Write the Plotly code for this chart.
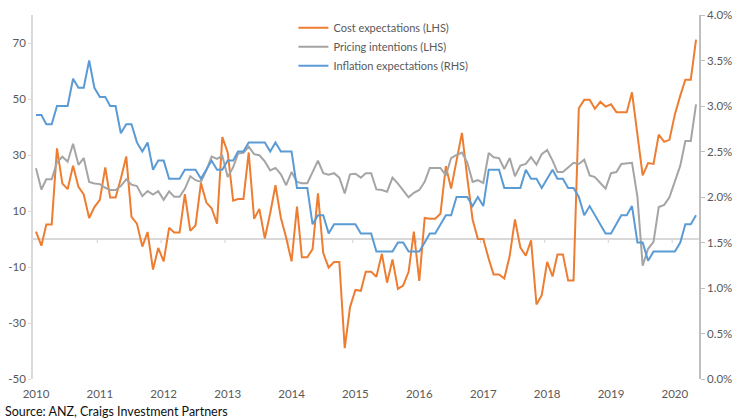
import pandas as pd
import plotly.graph_objects as go

# ---------------- data (monthly, Jan 2010 - May 2020) ----------------
start_month = "2010-01-01"
n_months = 125
dates = pd.date_range(start_month, periods=n_months, freq="MS")

cost_expectations = [
    2.6, -2.4, 5.2, 5.2, 32.4, 19.8, 17.8, 26.2, 18.6, 15.9, 7.5, 11.4,
    14.0, 25.6, 14.8, 14.8, 21.5, 29.5, 7.9, 5.5, -2.7, 2.5, -10.9, -3.2,
    -8.0, 4.0, 2.3, 2.3, 16.0, 2.9, 4.8, 20.0, 13.0, 11.0, 5.5, 36.4,
    30.9, 13.7, 14.3, 14.3, 30.9, 7.2, 10.7, 0.2, 9.3, 19.2, 7.5, 0.5,
    -8.0, 11.6, -6.5, -6.5, -3.6, 16.3, -5.0, -10.2, -8.2, -8.2, -39.0, -24.4,
    -18.2, -18.5, -11.7, -11.7, -13.5, -5.3, -15.6, -7.3, -17.8, -16.6, -11.7, 2.6,
    -15.0, 7.5, 7.2, 7.2, 9.0, 26.0, 18.0, 28.0, 37.9, 22.1, 6.9, 0.0,
    0.0, -7.1, -12.7, -12.7, -14.1, -6.0, 7.0, -3.1, -6.0, -0.5, -23.4, -20.1,
    -8.2, -13.4, -5.5, -5.5, -14.8, -14.8, 46.7, 49.7, 49.7, 46.5, 49.0, 47.3,
    48.1, 45.3, 45.3, 45.3, 52.4, 37.5, 22.7, 27.1, 26.8, 37.3, 34.7, 35.4,
    44.5, 51.2, 56.9, 56.9, 71.2,
]

pricing_intentions = [
    25.3, 17.7, 21.3, 21.3, 27.4, 29.4, 27.6, 34.0, 26.5, 28.9, 20.4, 19.8,
    19.6, 18.3, 17.5, 17.5, 18.9, 21.3, 19.4, 18.9, 15.3, 17.1, 15.9, 17.1,
    14.0, 17.0, 15.1, 15.1, 17.9, 22.4, 21.0, 20.4, 24.5, 29.4, 28.6, 29.7,
    22.1, 25.6, 30.5, 30.8, 33.0, 30.3, 29.9, 27.7, 24.5, 25.4, 23.1, 19.2,
    23.9, 20.4, 19.9, 19.9, 23.9, 28.0, 23.5, 23.0, 23.5, 21.9, 16.3, 23.1,
    23.3, 21.9, 23.5, 23.5, 17.7, 17.5, 16.9, 21.9, 19.8, 17.2, 14.9, 16.5,
    17.5, 20.4, 25.4, 25.4, 25.4, 22.7, 28.9, 30.0, 30.9, 27.4, 20.4, 21.0,
    20.0, 30.7, 29.2, 28.9, 25.0, 28.9, 22.4, 26.2, 26.8, 29.2, 26.6, 30.3,
    31.8, 28.0, 23.9, 23.9, 25.6, 27.2, 26.8, 28.3, 22.7, 22.1, 20.0, 18.0,
    23.5, 23.9, 26.8, 26.9, 27.2, 15.1, -9.5, -3.5, -1.0, 11.4, 12.2, 14.9,
    20.7, 26.2, 35.0, 35.0, 48.1,
]

inflation_expectations = [  # per cent
    2.9, 2.9, 2.8, 2.8, 3.0, 3.0, 3.0, 3.3, 3.2, 3.2, 3.5, 3.2,
    3.1, 3.1, 3.0, 3.0, 2.7, 2.8, 2.8, 2.6, 2.5, 2.6, 2.3, 2.4,
    2.4, 2.2, 2.2, 2.2, 2.3, 2.3, 2.3, 2.2, 2.3, 2.4, 2.3, 2.3,
    2.4, 2.4, 2.5, 2.5, 2.6, 2.6, 2.6, 2.6, 2.5, 2.6, 2.5, 2.5,
    2.5, 2.1, 2.1, 2.1, 1.7, 1.8, 1.8, 1.6, 1.7, 1.7, 1.7, 1.7,
    1.7, 1.6, 1.6, 1.6, 1.4, 1.4, 1.4, 1.4, 1.5, 1.5, 1.4, 1.4,
    1.4, 1.5, 1.6, 1.6, 1.7, 1.8, 1.8, 2.0, 2.0, 2.0, 1.9, 2.0,
    1.9, 2.3, 2.3, 2.3, 2.1, 2.1, 2.1, 2.1, 2.3, 2.2, 2.2, 2.1,
    2.2, 2.3, 2.2, 2.2, 2.1, 2.1, 2.0, 1.8, 1.9, 1.8, 1.7, 1.6,
    1.6, 1.7, 1.8, 1.8, 1.9, 1.5, 1.5, 1.3, 1.4, 1.4, 1.4, 1.4,
    1.4, 1.5, 1.7, 1.7, 1.8,
]

series_names = ["Cost expectations (LHS)", "Pricing intentions (LHS)", "Inflation expectations (RHS)"]
series_colors = ["#ED7D31", "#A5A5A5", "#5B9BD5"]

left_ticks = [-50, -30, -10, 10, 30, 50, 70]
left_range = [-50, 80]
right_ticks = [0.0, 0.5, 1.0, 1.5, 2.0, 2.5, 3.0, 3.5, 4.0]
right_range = [0, 4]
years = list(range(2010, 2021))
x_range = ["2009-12-15", "2020-05-18"]
source_text = "Source: ANZ, Craigs Investment Partners"

# ---------------- figure ----------------
FONT = "Lato, 'Open Sans', sans-serif"
TICK_COLOR = "#595959"
AXIS_COLOR = "#d9d9d9"

fig = go.Figure()
fig.add_trace(go.Scatter(x=dates, y=cost_expectations, name=series_names[0], mode="lines",
                         line=dict(color=series_colors[0], width=2), yaxis="y"))
fig.add_trace(go.Scatter(x=dates, y=pricing_intentions, name=series_names[1], mode="lines",
                         line=dict(color=series_colors[1], width=2), yaxis="y"))
fig.add_trace(go.Scatter(x=dates, y=inflation_expectations, name=series_names[2], mode="lines",
                         line=dict(color=series_colors[2], width=2), yaxis="y2"))

# small tick marks on the zero line at each year boundary
for yr in years[1:]:
    tx = pd.Timestamp(f"{yr}-01-01") - pd.Timedelta(days=15)
    fig.add_shape(type="line", xref="x", yref="y", x0=tx, x1=tx, y0=0, y1=-1.4,
                  line=dict(color=AXIS_COLOR, width=1.2), layer="below")

fig.update_layout(
    width=740, height=420,
    margin=dict(l=33, r=34, t=8, b=41),
    paper_bgcolor="white", plot_bgcolor="white",
    font=dict(family=FONT, size=11, color=TICK_COLOR),
    showlegend=True,
    legend=dict(x=0.391, y=1.005, xanchor="left", yanchor="top",
                bgcolor="rgba(0,0,0,0)", font=dict(size=11, color=TICK_COLOR),
                tracegroupgap=0, itemwidth=30),
    xaxis=dict(
        type="date", range=x_range, showgrid=False, zeroline=False, showline=False,
        tickvals=[pd.Timestamp(f"{y}-01-01") for y in years],
        ticktext=[str(y) for y in years],
        ticks="", ticklabelstandoff=6, tickfont=dict(size=11.5, color=TICK_COLOR),
    ),
    yaxis=dict(
        range=left_range, tickvals=left_ticks, ticktext=[str(v) for v in left_ticks],
        showgrid=False, zeroline=True, zerolinecolor=AXIS_COLOR, zerolinewidth=1.5,
        showline=True, linecolor=AXIS_COLOR, linewidth=1.5,
        ticks="outside", ticklen=3, tickcolor=AXIS_COLOR, tickwidth=1,
        tickfont=dict(size=11.5, color=TICK_COLOR),
    ),
    yaxis2=dict(
        range=right_range, tickvals=right_ticks, ticktext=[f"{v:.1f}%" for v in right_ticks],
        overlaying="y", side="right", showgrid=False, zeroline=False,
        showline=True, linecolor="#bfbfbf", linewidth=1.5,
        ticks="outside", ticklen=4, tickcolor="#bfbfbf", tickwidth=1,
        tickfont=dict(size=11.5, color=TICK_COLOR),
    ),
    annotations=[dict(text=source_text, xref="paper", yref="paper", x=-0.045, y=-0.088,
                      xanchor="left", yanchor="middle", showarrow=False,
                      font=dict(family=FONT, size=12.5, color="#111111"))],
)

fig.write_html("out.html")
